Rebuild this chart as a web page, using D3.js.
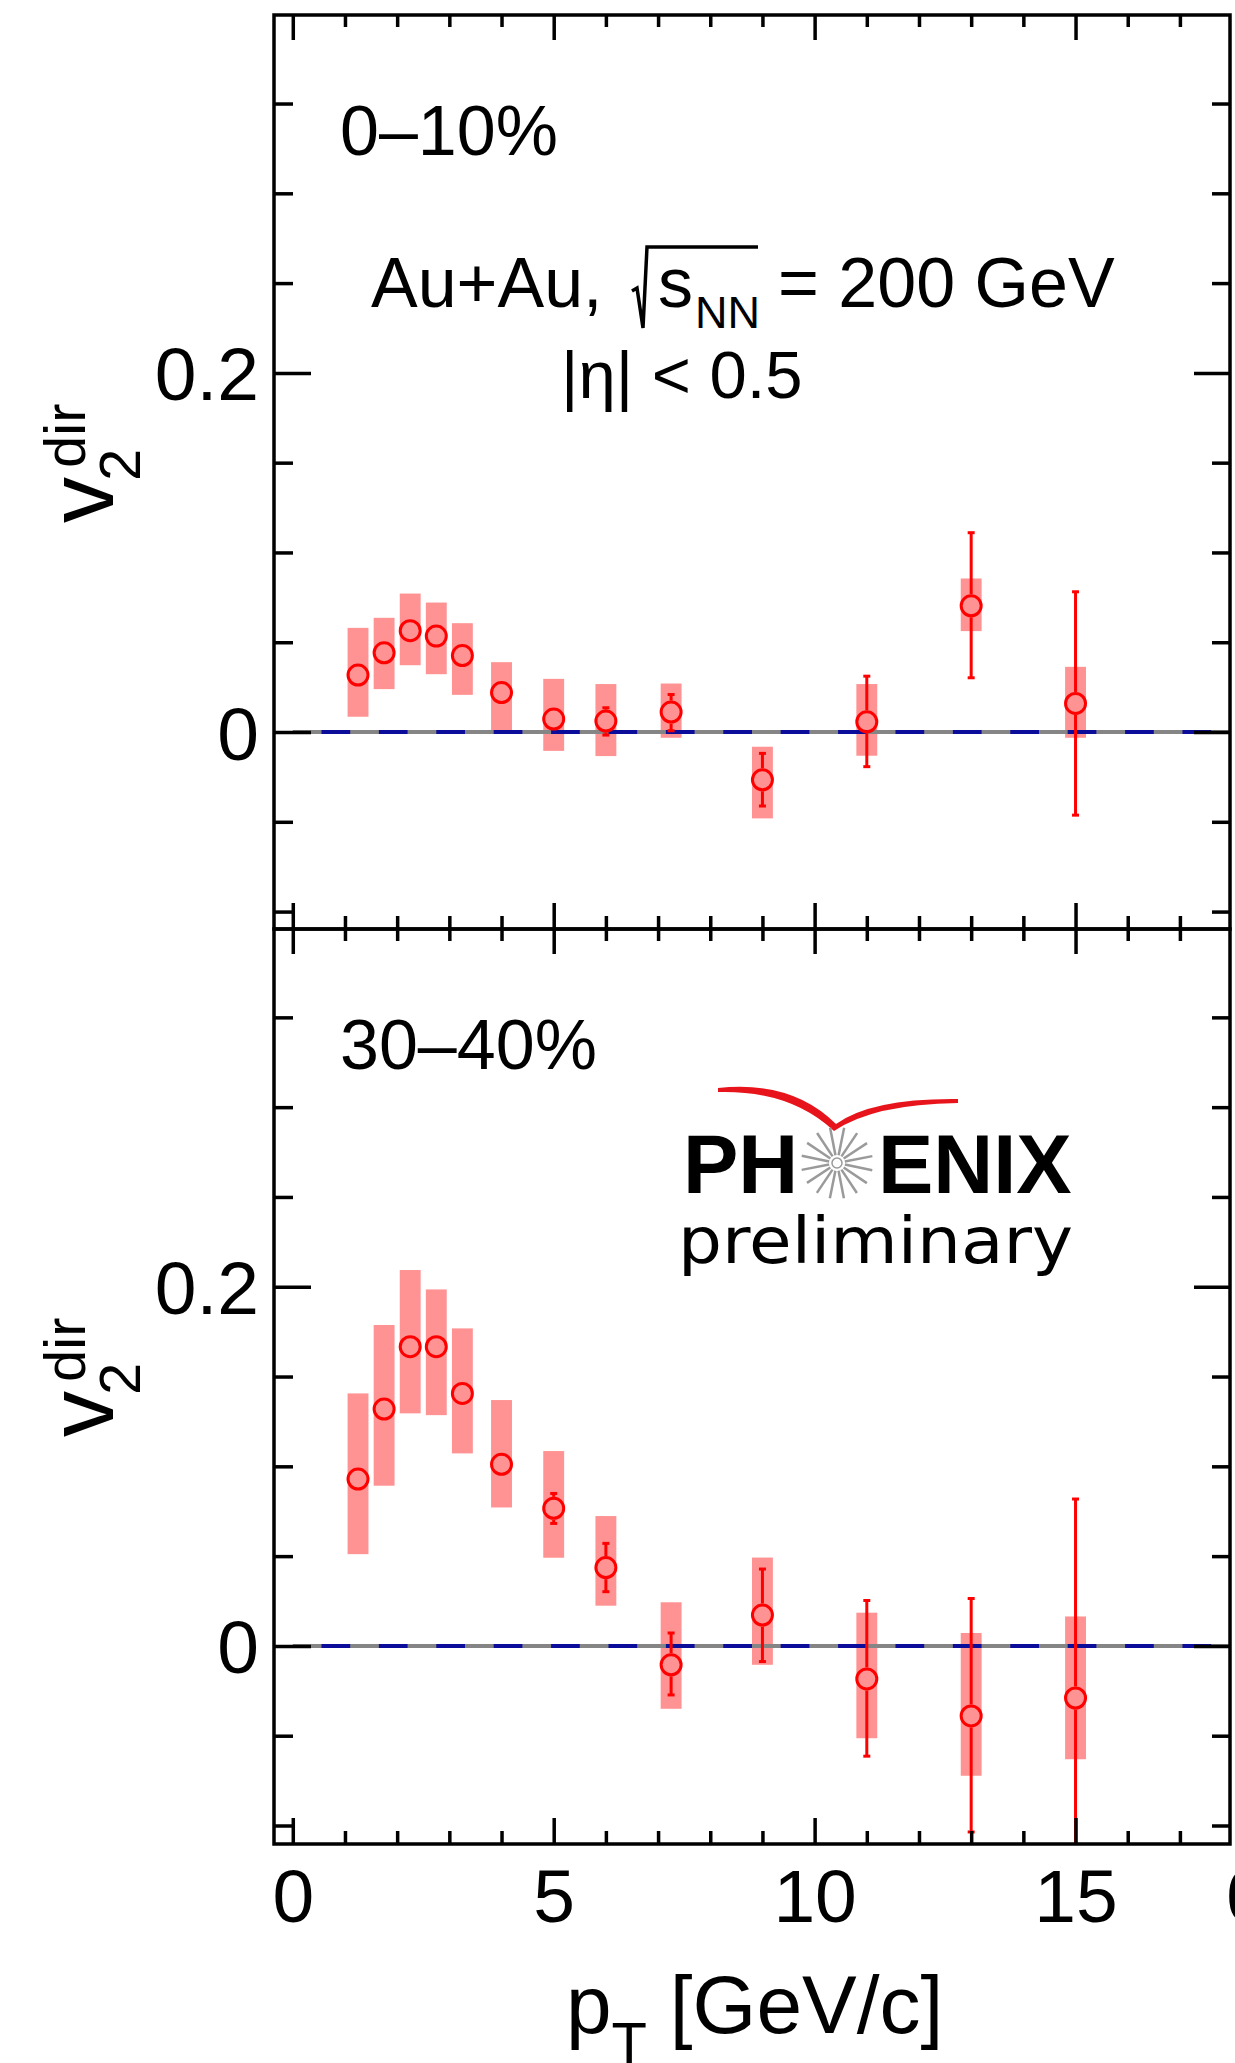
<!DOCTYPE html>
<html>
<head>
<meta charset="utf-8">
<script src="https://cdn.jsdelivr.net/npm/d3@7"></script>
<style>
  body { margin: 0; background: #fff; }
  text { font-family: "Liberation Sans", Arial, Helvetica, sans-serif; fill: #000; }
</style>
</head>
<body>
<div id="my_dataviz"></div>
<script>
// pT bin centres [GeV/c]
var ptBins = [1.25, 1.75, 2.25, 2.75, 3.25, 4, 5, 6, 7.25, 9, 11, 13, 15];

// 0-10% central
var v2Central     = [0.0317, 0.0441, 0.0564, 0.0534, 0.0426, 0.0220, 0.0072, 0.0061, 0.0111, -0.0266, 0.0057, 0.0703, 0.0159];
var statLoCentral = [0.0277, 0.0401, 0.0524, 0.0494, 0.0386, 0.0180, 0.0032, -0.0017, 0.0007, -0.0412, -0.0193, 0.0302, -0.0463];
var statHiCentral = [0.0357, 0.0481, 0.0604, 0.0574, 0.0466, 0.0260, 0.0112, 0.0135, 0.0209, -0.0119, 0.0311, 0.1110, 0.0781];
var sysLoCentral  = [0.0085, 0.0239, 0.0372, 0.0322, 0.0207, -0.0004, -0.0105, -0.0134, -0.0032, -0.0481, -0.0132, 0.0562, -0.0032];
var sysHiCentral  = [0.0580, 0.0636, 0.0771, 0.0721, 0.0606, 0.0389, 0.0296, 0.0267, 0.0270, -0.0082, 0.0267, 0.0855, 0.0363];

// 30-40% mid-central
var v2Mid     = [0.0929, 0.1319, 0.1666, 0.1666, 0.1406, 0.1011, 0.0766, 0.0436, -0.0105, 0.0172, -0.0184, -0.0390, -0.0290];
var statLoMid = [0.0889, 0.1279, 0.1626, 0.1626, 0.1366, 0.0971, 0.0682, 0.0302, -0.0273, -0.0087, -0.0614, -0.1036, -0.1400];
var statHiMid = [0.0969, 0.1359, 0.1706, 0.1706, 0.1446, 0.1051, 0.0849, 0.0571, 0.0072, 0.0428, 0.0253, 0.0264, 0.0818];
var sysLoMid  = [0.0511, 0.0892, 0.1295, 0.1285, 0.1072, 0.0771, 0.0491, 0.0224, -0.0350, -0.0105, -0.0514, -0.0723, -0.0631];
var sysHiMid  = [0.1406, 0.1787, 0.2093, 0.1985, 0.1768, 0.1369, 0.1085, 0.0723, 0.0243, 0.0492, 0.0185, 0.0072, 0.0164];

// ticks
var xMajorTicks = [0, 5, 10, 15];
var xMinorTicks = [1, 2, 3, 4, 6, 7, 8, 9, 11, 12, 13, 14, 16, 17];
var yMajorTicks = [0, 0.2];
var yMinorTicks = [-0.1, -0.05, 0.05, 0.1, 0.15, 0.25, 0.3, 0.35];

var panelLabels = ["0–10%", "30–40%"];

// set the dimensions of the graph
var width = 1235, height = 2063;
var frame = { left: 274, right: 1230, top: 15, mid: 929, bottom: 1844 };
var red = "#ff0000", boxFill = "#ff9292";
var markerR = 10, boxHalf = 0.2;

var svg = d3.select("#my_dataviz")
    .append("svg")
    .attr("width", width)
    .attr("height", height);

svg.append("rect").attr("width", width).attr("height", height).attr("fill", "#fff");

var x = d3.scaleLinear()
    .domain([-0.36, 17.96])
    .range([frame.left, frame.right]);

var panels = [
    { label: panelLabels[0], top: frame.top, bottom: frame.mid, yDomain: [-0.1097, 0.3993],
      v2: v2Central, statLo: statLoCentral, statHi: statHiCentral, sysLo: sysLoCentral, sysHi: sysHiCentral },
    { label: panelLabels[1], top: frame.mid, bottom: frame.bottom, yDomain: [-0.1103, 0.3992],
      v2: v2Mid, statLo: statLoMid, statHi: statHiMid, sysLo: sysLoMid, sysHi: sysHiMid }
];

var styleAxis = function (g, fontSize) {
    g.attr("font-family", null).attr("font-size", null);
    g.select(".domain").remove();
    g.selectAll(".tick line").attr("stroke", "#000").attr("stroke-width", 3.5);
    g.selectAll(".tick text").attr("font-size", fontSize);
}

panels.forEach(function (p, i) {
    var y = d3.scaleLinear().domain(p.yDomain).range([p.bottom, p.top]);
    var g = svg.append("g");

    g.append("clipPath").attr("id", "clip" + i)
        .append("rect")
        .attr("x", frame.left).attr("y", p.top)
        .attr("width", frame.right - frame.left).attr("height", p.bottom - p.top);

    var pts = ptBins.map(function (d, j) {
        return { pt: d, v: p.v2[j], sLo: p.statLo[j], sHi: p.statHi[j], yLo: p.sysLo[j], yHi: p.sysHi[j] };
    });

    var plot = g.append("g").attr("clip-path", "url(#clip" + i + ")");

    // systematic boxes
    plot.selectAll(".sys")
        .data(pts)
        .enter()
        .append("rect")
        .attr("class", "sys")
        .attr("x", function (d) { return x(d.pt - boxHalf); })
        .attr("width", function (d) { return x(d.pt + boxHalf) - x(d.pt - boxHalf); })
        .attr("y", function (d) { return y(d.yHi); })
        .attr("height", function (d) { return y(d.yLo) - y(d.yHi); })
        .attr("fill", boxFill);

    // left axis
    g.append("g")
        .attr("transform", "translate(" + frame.left + ",0)")
        .call(d3.axisLeft(y).tickValues(yMinorTicks).tickSize(-19).tickFormat(""))
        .call(styleAxis, 75);
    g.append("g")
        .attr("transform", "translate(" + frame.left + ",0)")
        .call(d3.axisLeft(y).tickValues(yMajorTicks).tickSize(-37).tickPadding(15).tickFormat(d3.format(".1~f")))
        .call(styleAxis, 75)
        .selectAll(".tick text").attr("dy", "0.36em");

    // right axis
    g.append("g")
        .attr("transform", "translate(" + frame.right + ",0)")
        .call(d3.axisRight(y).tickValues(yMinorTicks).tickSize(-18).tickFormat(""))
        .call(styleAxis, 75);
    g.append("g")
        .attr("transform", "translate(" + frame.right + ",0)")
        .call(d3.axisRight(y).tickValues(yMajorTicks).tickSize(-36).tickFormat(""))
        .call(styleAxis, 75);

    // top and bottom x ticks of this panel
    g.append("g")
        .attr("transform", "translate(0," + p.top + ")")
        .call(d3.axisTop(x).tickValues(xMinorTicks).tickSize(-12).tickFormat(""))
        .call(styleAxis, 75);
    g.append("g")
        .attr("transform", "translate(0," + p.top + ")")
        .call(d3.axisTop(x).tickValues(xMajorTicks).tickSize(-25).tickFormat(""))
        .call(styleAxis, 75);
    g.append("g")
        .attr("transform", "translate(0," + p.bottom + ")")
        .call(d3.axisBottom(x).tickValues(xMinorTicks).tickSize(-13).tickFormat(""))
        .call(styleAxis, 75);
    g.append("g")
        .attr("transform", "translate(0," + p.bottom + ")")
        .call(d3.axisBottom(x).tickValues(xMajorTicks).tickSize(-26).tickPadding(25)
            .tickFormat(i == 1 ? d3.format("d") : ""))
        .call(styleAxis, 75);

    // zero line: grey with dark blue dashes
    plot.append("line")
        .attr("x1", x(0)).attr("x2", x(17.96))
        .attr("y1", y(0)).attr("y2", y(0))
        .attr("stroke", "#858585").attr("stroke-width", 4);
    plot.append("line")
        .attr("x1", x(0)).attr("x2", x(17.96))
        .attr("y1", y(0)).attr("y2", y(0))
        .attr("stroke", "#0c0c9a").attr("stroke-width", 4)
        .attr("stroke-dasharray", "28.7 28.7")
        .attr("stroke-dashoffset", 28.7);

    // statistical error bars, drawn outside the marker
    var rOut = markerR + 1.5;
    pts.forEach(function (d) {
        var cx = x(d.pt), cy = y(d.v);
        [[y(d.sHi), -1], [y(d.sLo), 1]].forEach(function (e) {
            var end = e[0], s = e[1];
            if ((end - cy) * s > rOut) {
                plot.append("line")
                    .attr("x1", cx).attr("x2", cx)
                    .attr("y1", cy + s * rOut).attr("y2", end)
                    .attr("stroke", red).attr("stroke-width", 3);
                plot.append("line")
                    .attr("x1", cx - 3.5).attr("x2", cx + 3.5)
                    .attr("y1", end).attr("y2", end)
                    .attr("stroke", red).attr("stroke-width", 3);
            }
        });
    });

    // markers
    plot.selectAll(".dot")
        .data(pts)
        .enter()
        .append("circle")
        .attr("class", "dot")
        .attr("cx", function (d) { return x(d.pt); })
        .attr("cy", function (d) { return y(d.v); })
        .attr("r", markerR)
        .attr("fill", "none")
        .attr("stroke", red)
        .attr("stroke-width", 3);

    // frame
    g.append("rect")
        .attr("x", frame.left).attr("y", p.top)
        .attr("width", frame.right - frame.left).attr("height", p.bottom - p.top)
        .attr("fill", "none").attr("stroke", "#000").attr("stroke-width", 3.5);

    // centrality label
    g.append("text")
        .attr("x", 340).attr("y", p.top + 140)
        .attr("font-size", 70)
        .text(p.label);

    // y axis title v2^dir
    g.append("text")
        .attr("transform", "translate(113," + (p.top + 508) + ") rotate(-90)")
        .attr("font-size", 92)
        .text("v");
    g.append("text")
        .attr("transform", "translate(140," + (p.top + 466) + ") rotate(-90)")
        .attr("font-size", 58)
        .text("2");
    g.append("text")
        .attr("transform", "translate(85," + (p.top + 453) + ") rotate(-90)")
        .attr("font-size", 58)
        .text("dir");
});

// neighbouring panel's first tick label, cut by the page edge
svg.append("text")
    .attr("x", frame.right + 17).attr("y", frame.bottom + 78)
    .attr("text-anchor", "middle")
    .attr("font-size", 75)
    .text("0");

// x axis title
var xTitle = svg.append("text")
    .attr("x", 566).attr("y", 2033)
    .attr("font-size", 82);
xTitle.append("tspan").text("p");
xTitle.append("tspan").attr("font-size", 58).attr("dy", 30).text("T");
xTitle.append("tspan").attr("dy", -30).text(" [GeV/c]");

// collision system
svg.append("text").attr("x", 371).attr("y", 307).attr("font-size", 70).text("Au+Au,");
svg.append("path")
    .attr("d", "M632,291 L637,288 L643,328 L647,247 L758,247")
    .attr("fill", "none").attr("stroke", "#000").attr("stroke-width", 3.5)
    .attr("stroke-linejoin", "miter");
svg.append("text").attr("x", 658).attr("y", 307).attr("font-size", 70).text("s");
svg.append("text").attr("x", 695).attr("y", 328).attr("font-size", 45).text("NN");
svg.append("text").attr("x", 778).attr("y", 307).attr("font-size", 70).text("= 200 GeV");
svg.append("text").attr("x", 561).attr("y", 398).attr("font-size", 67).text("|η| < 0.5");

// PHENIX preliminary logo
var logo = svg.append("g");
logo.append("path")
    .attr("d", "M718,1088 Q792,1080 836,1124 Q872,1098 958,1099 L958,1103 Q874,1104 834,1131 Q790,1090 718,1092 Z")
    .attr("fill", "#e8141b");
logo.append("text").attr("x", 683).attr("y", 1193)
    .attr("font-size", 83).attr("font-weight", "bold").text("PH");
logo.append("text").attr("x", 878).attr("y", 1193)
    .attr("font-size", 83).attr("font-weight", "bold").text("ENIX");
logo.selectAll(".ray")
    .data(d3.range(16))
    .enter()
    .append("line")
    .attr("class", "ray")
    .attr("x1", function (k) { return 837 + 8 * Math.cos(k * Math.PI / 8 + 0.2); })
    .attr("y1", function (k) { return 1163 + 8 * Math.sin(k * Math.PI / 8 + 0.2); })
    .attr("x2", function (k) { return 837 + 36 * Math.cos(k * Math.PI / 8 + 0.2); })
    .attr("y2", function (k) { return 1163 + 36 * Math.sin(k * Math.PI / 8 + 0.2); })
    .attr("stroke", "#9a9a9a").attr("stroke-width", 2.5);
logo.append("circle").attr("cx", 837).attr("cy", 1163).attr("r", 5)
    .attr("fill", "#fff").attr("stroke", "#9a9a9a").attr("stroke-width", 1.5);
logo.append("text").attr("x", 678).attr("y", 1263)
    .attr("font-size", 64)
    .attr("textLength", 395).attr("lengthAdjust", "spacingAndGlyphs")
    .style("font-family", "'DejaVu Sans', sans-serif")
    .text("preliminary");
</script>
</body>
</html>
